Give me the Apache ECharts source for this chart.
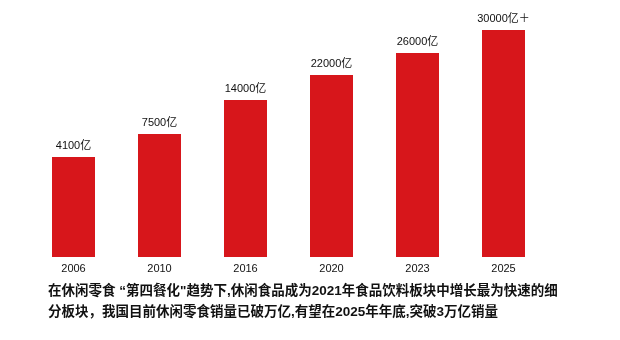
<!DOCTYPE html>
<html><head><meta charset="utf-8">
<script src="https://cdn.jsdelivr.net/npm/echarts@6/dist/echarts.min.js"></script>
<style>html,body{margin:0;padding:0;background:#fff}#c{width:620px;height:340px}</style>
</head><body><div id="c"></div>
<script>
// Categories (years)
var years = ['2006', '2010', '2016', '2020', '2023', '2025'];
// Sales values (亿) as labelled
var values = [4100, 7500, 14000, 22000, 26000, 30000];
// Label texts
var labels = ['4100亿', '7500亿', '14000亿', '22000亿', '26000亿', '30000亿＋'];
// Bar heights as drawn in the picture (non-proportional, visual units)
var barHeights = [100, 123, 157, 182, 204, 227];
// Caption lines
var captionLines = [
  '在休闲零食 “第四餐化"趋势下,休闲食品成为2021年食品饮料板块中增长最为快速的细',
  '分板块，我国目前休闲零食销量已破万亿,有望在2025年年底,突破3万亿销量'
];

var chart = echarts.init(document.getElementById('c'), null, {renderer: 'canvas'});
chart.setOption({
  animation: false,
  backgroundColor: '#fff',
  grid: {left: 30.5, right: 73.5, top: 30, bottom: 83, containLabel: false},
  xAxis: {
    type: 'category', data: years,
    axisLine: {show: false}, axisTick: {show: false},
    axisLabel: {color: '#111', fontSize: 11, margin: 6, fontFamily: 'Liberation Sans, Arial, sans-serif'}
  },
  yAxis: {type: 'value', min: 0, max: 227, show: false, splitLine: {show: false}},
  series: [{
    type: 'bar', barWidth: '50%',
    data: barHeights.map(function (h, i) { return {value: h, raw: values[i]}; }),
    itemStyle: {color: '#d7161b'},
    label: {
      show: true, position: 'top', distance: 6, color: '#111', fontSize: 11,
      fontFamily: 'Liberation Sans, Arial, Noto Sans CJK SC, sans-serif',
      formatter: function (p) { return labels[p.dataIndex]; }
    }
  }],
  graphic: [{
    type: 'text', left: 48, top: 281,
    style: {
      text: captionLines.join('\n'),
      font: 'bold 13.5px "Liberation Sans", Arial, "Noto Sans CJK SC", sans-serif',
      fill: '#111', lineHeight: 21
    }
  }]
});
</script></body></html>
